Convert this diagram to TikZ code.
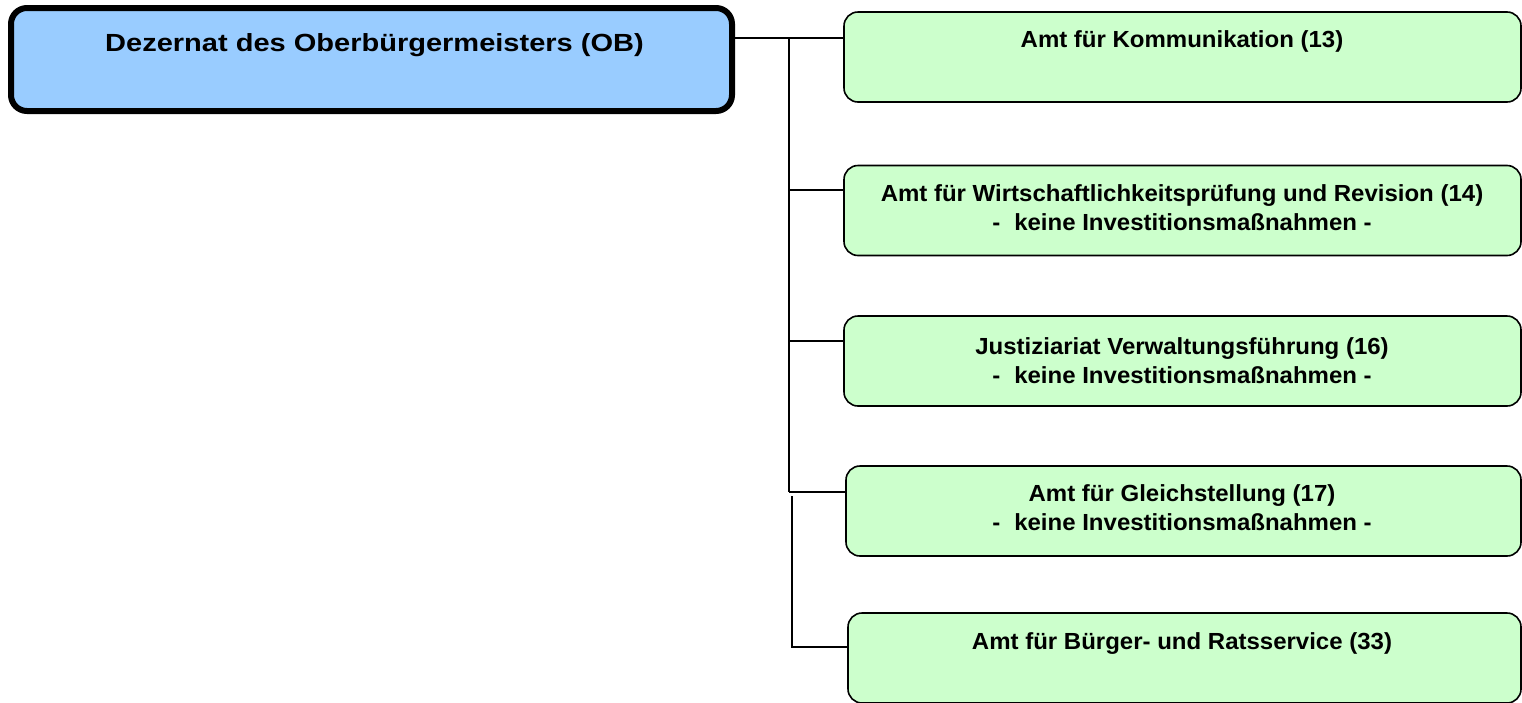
\documentclass[tikz,border=0pt]{standalone}
\usepackage{fontspec}
\setmainfont{Liberation Sans}
\newfontfamily\gfont[FakeStretch=1.03]{Liberation Sans}
\begin{document}
\begin{tikzpicture}[x=1pt,y=-1pt,
  obbox/.style={draw=black, line width=6pt, fill=obblue, rounded corners=16pt, inner sep=0pt},
  gbox/.style={draw=black, line width=1.6pt, fill=ggreen, rounded corners=14pt, inner sep=0pt, minimum width=677pt, minimum height=90pt},
  gtext/.style={font=\gfont\fontsize{23.3}{29}\selectfont\bfseries, align=center, inner sep=0pt, anchor=base},
  obtext/.style={font=\fontsize{24.8}{29}\selectfont\bfseries, inner sep=0pt, anchor=base},
  conn/.style={draw=black, line width=1.6pt}
]
\definecolor{obblue}{HTML}{99CCFF}
\definecolor{ggreen}{HTML}{CCFFCC}
\useasboundingbox (0,0) rectangle (1522,702);

% OB box
\node[obbox, minimum width=721pt, minimum height=103pt] (ob) at (371.5,59.5) {};
\node[obtext] (obt) at (374.5,51.7) {\scalebox{1.17}[1]{Dezernat des Oberbürgermeisters (OB)}};

% green boxes
\node[gbox] (b1) at (1182.5,57) {};
\node[gbox] (b2) at (1182.5,210.5) {};
\node[gbox] (b3) at (1182.5,361) {};
\node[gbox, minimum width=675pt] (b4) at (1183.5,511) {};
\node[gbox, minimum width=673pt] (b5) at (1184.5,658) {};

% text (anchor=base is the baseline of the last line)
\node[gtext] (t1) at (1182,47.3) {Amt für Kommunikation (13)};
\node[gtext] (t2) at (1182,230) {Amt für Wirtschaftlichkeitsprüfung und Revision (14)\\-\hspace{0.6em}keine Investitionsmaßnahmen -};
\node[gtext] (t3) at (1182,383) {Justiziariat Verwaltungsführung (16)\\-\hspace{0.6em}keine Investitionsmaßnahmen -};
\node[gtext] (t4) at (1182,530) {Amt für Gleichstellung (17)\\-\hspace{0.6em}keine Investitionsmaßnahmen -};
\node[gtext] (t5) at (1182,649) {Amt für Bürger- und Ratsservice (33)};

% connectors
\coordinate (j1) at (789,38);
\coordinate (j2) at (789,190);
\coordinate (j3) at (789,341);
\coordinate (j4) at (789,492);
\coordinate (k1) at (792,496);
\coordinate (k2) at (792,647);
\draw[conn] (ob.east |- j1) -- (b1.west |- j1);
\draw[conn] (j1) -- (j4);
\draw[conn] (j2) -- (b2.west |- j2);
\draw[conn] (j3) -- (b3.west |- j3);
\draw[conn] (j4) -- (b4.west |- j4);
\draw[conn] (k1) -- (k2) -- (b5.west |- k2);
\end{tikzpicture}
\end{document}
